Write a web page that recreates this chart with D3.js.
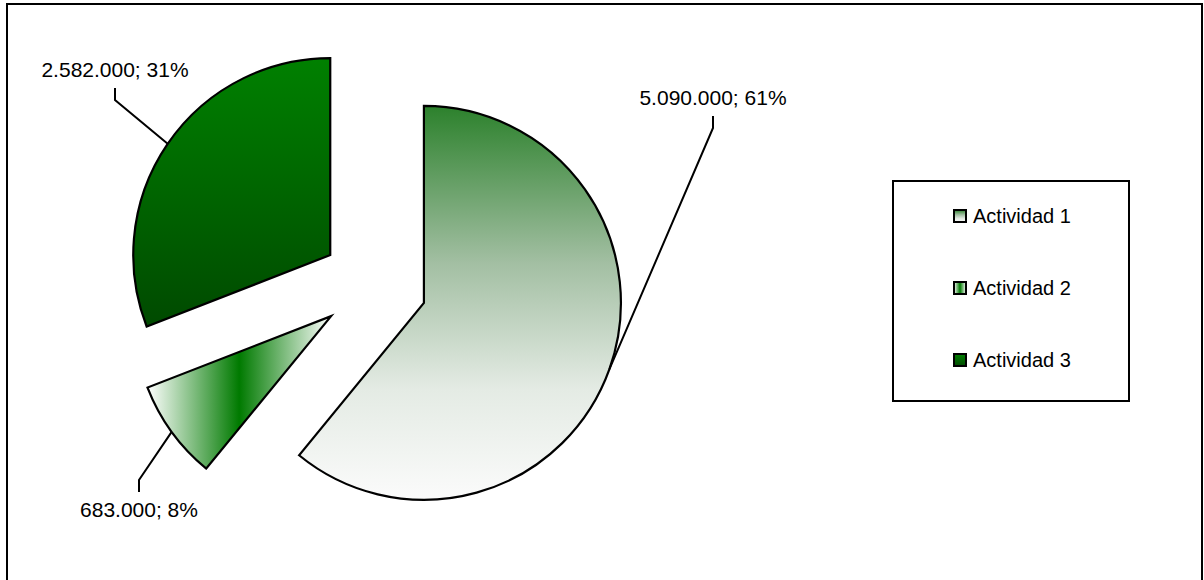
<!DOCTYPE html>
<html lang="es">
<head>
<meta charset="utf-8">
<title>Actividades</title>
<script src="https://d3js.org/d3.v7.min.js"></script>
<style>
  body { margin: 0; background: #fff; }
  svg { display: block; }
  .lbl { font-family: "Liberation Sans", Arial, sans-serif; font-size: 21px; fill: #000; }
  .leg { font-family: "Liberation Sans", Arial, sans-serif; font-size: 20px; fill: #000; }
</style>
</head>
<body>
<svg width="1204" height="580"></svg>
<script>
// data
const categories = ["Actividad 1", "Actividad 2", "Actividad 3"];
const values = [5090000, 683000, 2582000];

// layout
const cx = 374, cy = 285, radius = 197, explode = 53;
// where each data label sits (text anchor point) - excel placed them by hand
const labelPos = [[713, 105], [139, 517], [115, 77]];
const elbow = [[713, 128], [139, 480], [115, 100]];
const elbowEnd = [[713, 116], [139, 492], [115, 88]];

const svg = d3.select("svg");

// outer frame (bottom edge is cut off in the original)
svg.append("rect")
  .attr("x", 7).attr("y", 4).attr("width", 1195).attr("height", 620)
  .attr("fill", "none").attr("stroke", "#000").attr("stroke-width", 2);

const defs = svg.append("defs");

const g1 = defs.append("linearGradient").attr("id", "grad0")
  .attr("x1", 0).attr("y1", 0).attr("x2", 0).attr("y2", 1);
g1.append("stop").attr("offset", 0).attr("stop-color", "#2c812c");
g1.append("stop").attr("offset", 0.4).attr("stop-color", "#a3bfa3");
g1.append("stop").attr("offset", 0.72).attr("stop-color", "#e4ebe4");
g1.append("stop").attr("offset", 1).attr("stop-color", "#fbfbfb");

const g2 = defs.append("linearGradient").attr("id", "grad1")
  .attr("x1", 0).attr("y1", 0).attr("x2", 1).attr("y2", 0);
g2.append("stop").attr("offset", 0).attr("stop-color", "#ffffff");
g2.append("stop").attr("offset", 0.5).attr("stop-color", "#007a00");
g2.append("stop").attr("offset", 1).attr("stop-color", "#ffffff");

const g3 = defs.append("linearGradient").attr("id", "grad2")
  .attr("x1", 0).attr("y1", 0).attr("x2", 0).attr("y2", 1);
g3.append("stop").attr("offset", 0).attr("stop-color", "#008000");
g3.append("stop").attr("offset", 1).attr("stop-color", "#004a00");

const total = d3.sum(values);
const data = categories.map((c, i) => ({ name: c, value: values[i], idx: i }));

const pie = d3.pie().value(d => d.value).sort(null);
const arcs = pie(data);
const arc = d3.arc().innerRadius(0).outerRadius(radius);

const fmt = d3.formatLocale({ decimal: ",", thousands: ".", grouping: [3], currency: ["", ""] });
const num = fmt.format(",d");

const mid = d => (d.startAngle + d.endAngle) / 2;
const offset = d => [Math.sin(mid(d)) * explode, -Math.cos(mid(d)) * explode];

const slices = svg.append("g").attr("transform", `translate(${cx},${cy})`);

slices.selectAll("path")
  .data(arcs)
  .join("path")
  .attr("transform", d => `translate(${offset(d)})`)
  .attr("d", arc)
  .attr("fill", d => `url(#grad${d.data.idx})`)
  .attr("stroke", "#000")
  .attr("stroke-width", 2.2)
  .attr("stroke-linejoin", "miter");

// leader lines + labels
arcs.forEach(d => {
  const i = d.data.idx;
  const o = offset(d);
  const a = mid(d);
  const px = cx + o[0] + Math.sin(a) * radius;
  const py = cy + o[1] - Math.cos(a) * radius;
  svg.append("polyline")
    .attr("points", [[px, py], elbow[i], elbowEnd[i]].map(p => p.join(",")).join(" "))
    .attr("fill", "none").attr("stroke", "#000").attr("stroke-width", 2);
  svg.append("text")
    .attr("class", "lbl")
    .attr("x", labelPos[i][0]).attr("y", labelPos[i][1])
    .attr("text-anchor", "middle")
    .text(num(d.data.value) + "; " + Math.round(d.data.value / total * 100) + "%");
});

// legend
const legend = svg.append("g");
legend.append("rect")
  .attr("x", 893).attr("y", 181).attr("width", 236).attr("height", 220)
  .attr("fill", "#fff").attr("stroke", "#000").attr("stroke-width", 2);

const legY = d3.scalePoint().domain(categories).range([216, 360]);

const item = legend.selectAll("g.item")
  .data(data)
  .join("g").attr("class", "item")
  .attr("transform", d => `translate(953,${legY(d.name)})`);

item.append("rect")
  .attr("x", 1).attr("y", -6).attr("width", 12).attr("height", 12)
  .attr("fill", d => `url(#grad${d.idx})`)
  .attr("stroke", "#000").attr("stroke-width", 2);

item.append("text")
  .attr("class", "leg")
  .attr("x", 20).attr("y", 7)
  .text(d => d.name);
</script>
</body>
</html>
